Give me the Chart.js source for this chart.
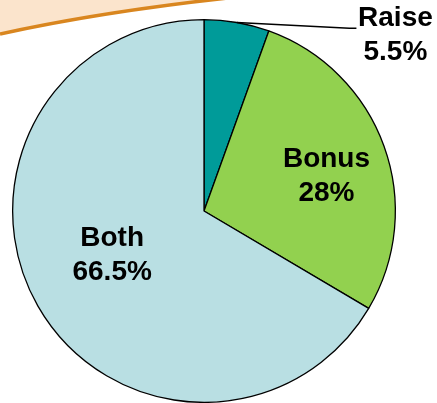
<!DOCTYPE html>
<html>
<head>
<meta charset="utf-8">
<script src="https://cdn.jsdelivr.net/npm/chart.js@4/dist/chart.umd.min.js"></script>
<style>
  body { margin: 0; background: #fff; }
  canvas { display: block; }
</style>
</head>
<body>
<canvas id="myChart" width="437" height="403"></canvas>
<script>
// data
const categories = ['Raise', 'Bonus', 'Both'];
const shares = [5.5, 28, 66.5];
const sliceColors = ['#009b99', '#92d14f', '#b9dfe3'];

// where each label sits, as offset from pie center in units of radius (null = outside w/ leader)
const labelSpots = [null, { x: 0.64, y: -0.18 }, { x: -0.48, y: 0.23 }];

// orange swoosh in the top left corner
const swoosh = {
    id: 'swoosh',
    beforeDraw(chart) {
        const c = chart.ctx;
        c.save();
        c.beginPath();
        c.moveTo(0, 0);
        c.lineTo(0, 34);
        c.quadraticCurveTo(100, 12, 228, -2);
        c.lineTo(228, 0);
        c.closePath();
        c.fillStyle = '#fbe4cc';
        c.fill();
        c.beginPath();
        c.moveTo(0, 34);
        c.quadraticCurveTo(100, 12, 228, -2);
        c.strokeStyle = '#d9861f';
        c.lineWidth = 3.5;
        c.stroke();
        c.restore();
    }
};

const sliceLabels = {
    id: 'sliceLabels',
    afterDatasetsDraw(chart) {
        const c = chart.ctx;
        const arcs = chart.getDatasetMeta(0).data;
        c.save();
        c.fillStyle = '#000';
        c.font = 'bold 28px "Liberation Sans", Arial, sans-serif';
        c.textAlign = 'center';
        c.textBaseline = 'middle';
        arcs.forEach((arc, i) => {
            const text = [categories[i], shares[i] + '%'];
            const spot = labelSpots[i];
            const r = arc.outerRadius;
            if (spot) {
                const x = arc.x + spot.x * r;
                const y = arc.y + spot.y * r;
                c.fillText(text[0], x, y - 17);
                c.fillText(text[1], x, y + 17);
            } else {
                const mid = (arc.startAngle + arc.endAngle) / 2;
                const sx = arc.x + Math.cos(mid) * r;
                const sy = arc.y + Math.sin(mid) * r;
                const ex = arc.x + 0.76 * r;
                const ey = arc.y - 0.955 * r;
                c.beginPath();
                c.moveTo(sx, sy);
                c.lineTo(ex, ey);
                c.lineTo(ex + 7, ey);
                c.strokeStyle = '#000';
                c.lineWidth = 1.3;
                c.stroke();
                c.fillText(text[0], ex + 46, ey - 10);
                c.fillText(text[1], ex + 46, ey + 24);
            }
        });
        c.restore();
    }
};

const ctx = document.getElementById('myChart');
const chart = new Chart(ctx, {
    type: 'pie',
    data: {
        labels: categories,
        datasets: [{
            data: shares,
            backgroundColor: sliceColors,
            borderColor: '#000',
            borderWidth: 1.3
        }]
    },
    options: {
        responsive: false,
        animation: false,
        layout: { padding: { left: 12, right: 41, top: 19, bottom: 0 } },
        plugins: {
            legend: { display: false },
            tooltip: { enabled: false }
        }
    },
    plugins: [swoosh, sliceLabels]
});
</script>
</body>
</html>
